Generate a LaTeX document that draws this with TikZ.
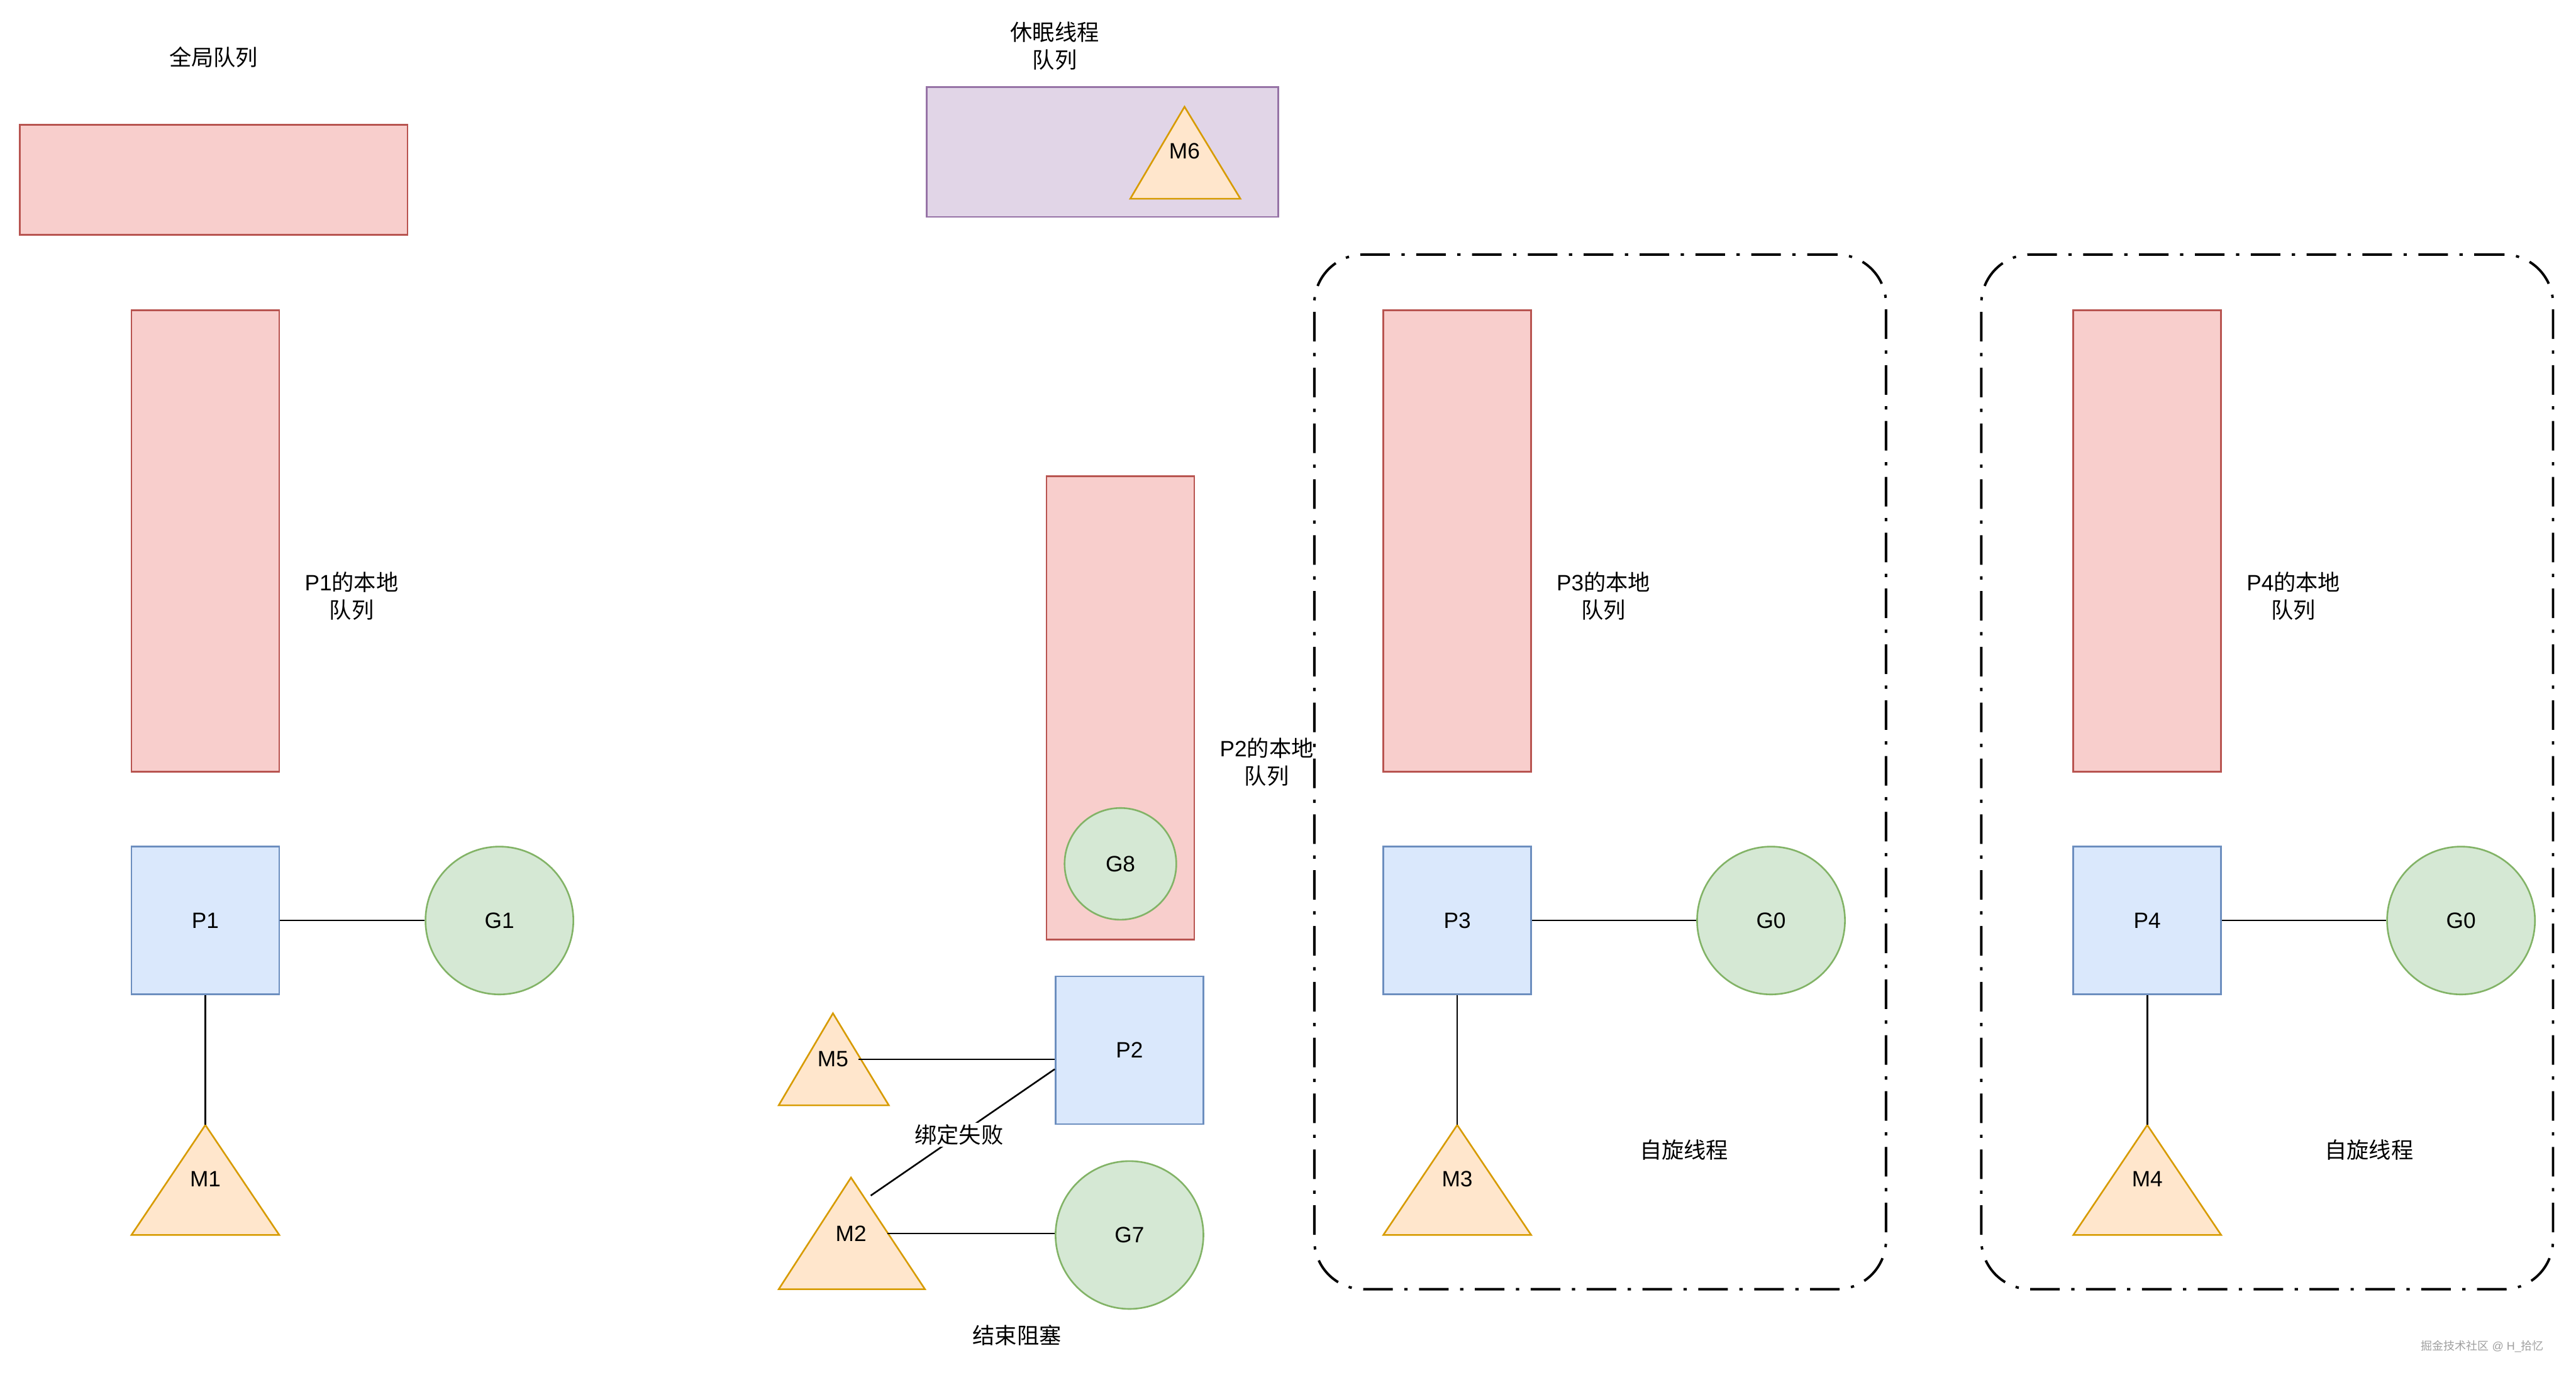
\documentclass[tikz,border=0pt]{standalone}
\usepackage{fontspec}
\setmainfont{Liberation Sans}
\newfontfamily\zh{Noto Sans CJK SC}
\usepackage{xcolor}
\usetikzlibrary{positioning, calc}

\definecolor{qfill}{HTML}{F8CECC}
\definecolor{qline}{HTML}{B85450}
\definecolor{pfill}{HTML}{DAE8FC}
\definecolor{pline}{HTML}{6C8EBF}
\definecolor{gfill}{HTML}{D5E8D4}
\definecolor{gline}{HTML}{82B366}
\definecolor{mfill}{HTML}{FFE6CC}
\definecolor{mline}{HTML}{D79B00}
\definecolor{sfill}{HTML}{E1D5E7}
\definecolor{sline}{HTML}{9673A6}

\begin{document}
\begin{tikzpicture}[
    x=1pt, y=-1pt,
    every node/.style={font=\fontsize{13.5}{17}\selectfont},
    queue/.style={draw=qline, fill=qfill, line width=1pt, minimum width=90pt, inner sep=0pt},
    proc/.style={draw=pline, fill=pfill, line width=1pt, minimum size=90pt, inner sep=0pt},
    gor/.style={draw=gline, fill=gfill, line width=1pt, circle, minimum size=90pt, inner sep=0pt},
    mtri/.style={draw=mline, fill=mfill, line width=1pt},
    mlbl/.style={inner xsep=6pt, inner ysep=2pt},
    lbl/.style={align=center},
    link/.style={draw=black, line width=1pt},
    spin/.style={draw=black, line width=1.5pt, rounded corners=30pt, dash pattern=on 18pt off 7pt on 2pt off 7pt}
]
\useasboundingbox (0,0) rectangle (1568,843);

% global queue
\node[lbl] (gqtxt) at (130,35) {\zh 全局队列};
\node[queue, minimum width=236pt, minimum height=67pt] (gq) at (130,109.5) {};

% sleeping threads
\node[lbl] (sqtxt) at (642,28) {\zh 休眠线程\\\zh 队列};
\node[draw=sline, fill=sfill, line width=1pt, minimum width=214pt, minimum height=79pt, inner sep=0pt] (sq) at (671,92.5) {};
\draw[mtri] (721,65) coordinate (m6top) -- (755,121) -- (688,121) -- cycle;
\node[mlbl] (m6) at (721,92) {M6};

% P1
\node[queue, minimum height=281pt] (q1) at (125,329.5) {};
\node[lbl] (q1txt) at (214,363) {P1{\zh 的本地}\\{\zh 队列}};
\node[proc] (p1) at (125,560.5) {P1};
\node[gor] (g1) at (304,560.5) {G1};
\draw[mtri] (125,685) coordinate (m1top) -- (170,752) -- (80,752) -- cycle;
\node[mlbl] (m1) at (125,718) {M1};
\draw[link] (p1) -- (g1);
\draw[link] (p1.south) -- (m1top);

% P2
\node[queue, minimum height=282pt] (q2) at (682,431) {};
\node[gor, minimum size=68pt] (g8) at (682,526) {G8};
\node[lbl] (q2txt) at (771,464) {P2{\zh 的本地}\\{\zh 队列}};
\node[proc] (p2) at (687.5,639.5) {P2};
\draw[mtri] (507,617) coordinate (m5top) -- (541,673) -- (474,673) -- cycle;
\node[mlbl] (m5) at (507,645) {M5};
\draw[mtri] (518,717) coordinate (m2top) -- (563,785) -- (474,785) -- cycle;
\node[mlbl] (m2) at (518,751) {M2};
\coordinate (m2tip) at (530,728);
\coordinate (m2side) at (540,751);
\node[gor] (g7) at (687.5,752) {G7};
\draw[link] (m5.east) -- (m5.east -| p2.west);
\draw[link] (m2tip) -- ($(p2.west)+(0,11.5)$)
    node[pos=0.48, fill=white, inner sep=1pt] (fail) {\zh 绑定失败};
\draw[link] (m2side) -- (g7.west |- m2side);
\node[lbl] (unblk) at (619,813) {\zh 结束阻塞};

% P3, spinning
\node[spin, minimum width=348pt, minimum height=630pt] (spin3) at (974,470) {};
\node[queue, minimum height=281pt] (q3) at (887,329.5) {};
\node[lbl] (q3txt) at (976,363) {P3{\zh 的本地}\\{\zh 队列}};
\node[proc] (p3) at (887,560.5) {P3};
\node[gor] (g03) at (1078,560.5) {G0};
\draw[mtri] (887,685) coordinate (m3top) -- (932,752) -- (842,752) -- cycle;
\node[mlbl] (m3) at (887,718) {M3};
\draw[link] (p3) -- (g03);
\draw[link] (p3.south) -- (m3top);
\node[lbl] (spin3txt) at (1025,700) {\zh 自旋线程};

% P4, spinning
\node[spin, minimum width=348pt, minimum height=630pt] (spin4) at (1380,470) {};
\node[queue, minimum height=281pt] (q4) at (1307,329.5) {};
\node[lbl] (q4txt) at (1396,363) {P4{\zh 的本地}\\{\zh 队列}};
\node[proc] (p4) at (1307,560.5) {P4};
\node[gor] (g04) at (1498,560.5) {G0};
\draw[mtri] (1307,685) coordinate (m4top) -- (1352,752) -- (1262,752) -- cycle;
\node[mlbl] (m4) at (1307,718) {M4};
\draw[link] (p4) -- (g04);
\draw[link] (p4.south) -- (m4top);
\node[lbl] (spin4txt) at (1442,700) {\zh 自旋线程};

\node[font=\fontsize{6.9}{8}\selectfont, text=gray!75] (mark) at (1511,820) {{\zh 掘金技术社区} @ H\_{\zh 拾忆}};
\end{tikzpicture}
\end{document}
